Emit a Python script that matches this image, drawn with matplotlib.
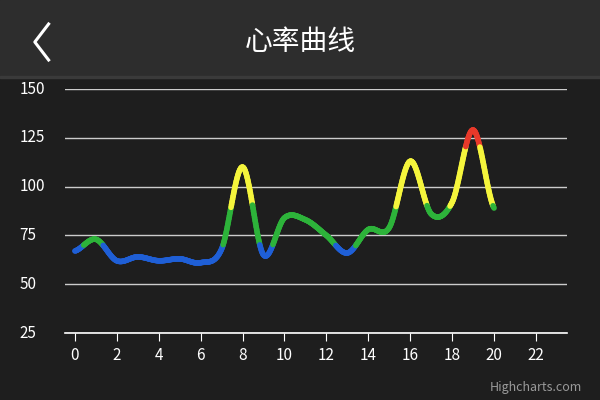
import numpy as np
import matplotlib
matplotlib.use("Agg")
import matplotlib.pyplot as plt
from matplotlib.collections import LineCollection
from matplotlib.patches import Rectangle
from matplotlib.lines import Line2D

plt.rcParams['font.family'] = ['Noto Sans CJK SC', 'DejaVu Sans']

x = np.arange(0, 21)
hr = [67, 73, 62, 64, 62, 63, 61, 68, 110, 65, 84, 83, 75, 66, 78, 79, 113, 86, 92, 129, 89]
xticks = list(range(0, 23, 2))
yticks = [25, 50, 75, 100, 125, 150]
title = "心率曲线"

fig = plt.figure(figsize=(6, 4), dpi=100, facecolor='#1e1e1e')
fig.patches.append(Rectangle((0, 0.81), 1, 0.19, transform=fig.transFigure, color='#2d2d2d', zorder=0))
fig.patches.append(Rectangle((0, 0.805), 1, 0.006, transform=fig.transFigure, color='#3a3a3a', zorder=0))
fig.text(0.5, 0.895, title, color='white', fontsize=20, ha='center', va='center')
fig.lines.append(Line2D([0.081, 0.058, 0.081], [0.94, 0.895, 0.85], transform=fig.transFigure, color='white', lw=2.2))
fig.text(0.97, 0.03, "Highcharts.com", color='#999999', fontsize=9, ha='right', va='center')

ax = fig.add_axes([0.108, 0.1675, 0.837, 0.61])
ax.set_facecolor('#1e1e1e')
ax.set_xlim(-0.48, 23.48)
ax.set_ylim(25, 150)
for y in yticks:
    ax.axhline(y, color='#cccccc', lw=1, zorder=1)
    ax.text(-0.09, y, str(y), transform=ax.get_yaxis_transform(), color='white',
            fontsize=11, ha='left', va='center')
for s in ax.spines.values():
    s.set_visible(False)
ax.set_yticks([])
ax.set_xticks(xticks)
ax.tick_params(axis='x', length=6, color='white', colors='white', labelsize=11, pad=4)
ax.plot([-0.48, 23.48], [25, 25], color='white', lw=1.2, zorder=2, clip_on=False)

# Catmull-Rom spline for smooth rendering
xs, ys = [], []
xa = np.array(x, float); ya = np.array(hr, float)
n = len(xa)
for i in range(n - 1):
    p0 = ya[max(i - 1, 0)]; p1 = ya[i]; p2 = ya[i + 1]; p3 = ya[min(i + 2, n - 1)]
    t = np.linspace(0, 1, 40, endpoint=False)
    yy = 0.5 * ((2 * p1) + (-p0 + p2) * t + (2 * p0 - 5 * p1 + 4 * p2 - p3) * t**2 + (-p0 + 3 * p1 - 3 * p2 + p3) * t**3)
    xs.extend(xa[i] + t); ys.extend(yy)
xs.append(xa[-1]); ys.append(ya[-1])
xs = np.array(xs); ys = np.array(ys)

def col(v):
    if v < 70: return '#1f5fd6'
    if v < 90: return '#2db33a'
    if v < 120: return '#f5f53c'
    return '#e8392a'

pts = np.array([xs, ys]).T.reshape(-1, 1, 2)
segs = np.concatenate([pts[:-1], pts[1:]], axis=1)
cols = [col((ys[i] + ys[i + 1]) / 2) for i in range(len(ys) - 1)]
lc = LineCollection(segs, colors=cols, linewidths=4, capstyle='round', zorder=3)
ax.add_collection(lc)

fig.savefig("out.png", dpi=100, facecolor=fig.get_facecolor())
